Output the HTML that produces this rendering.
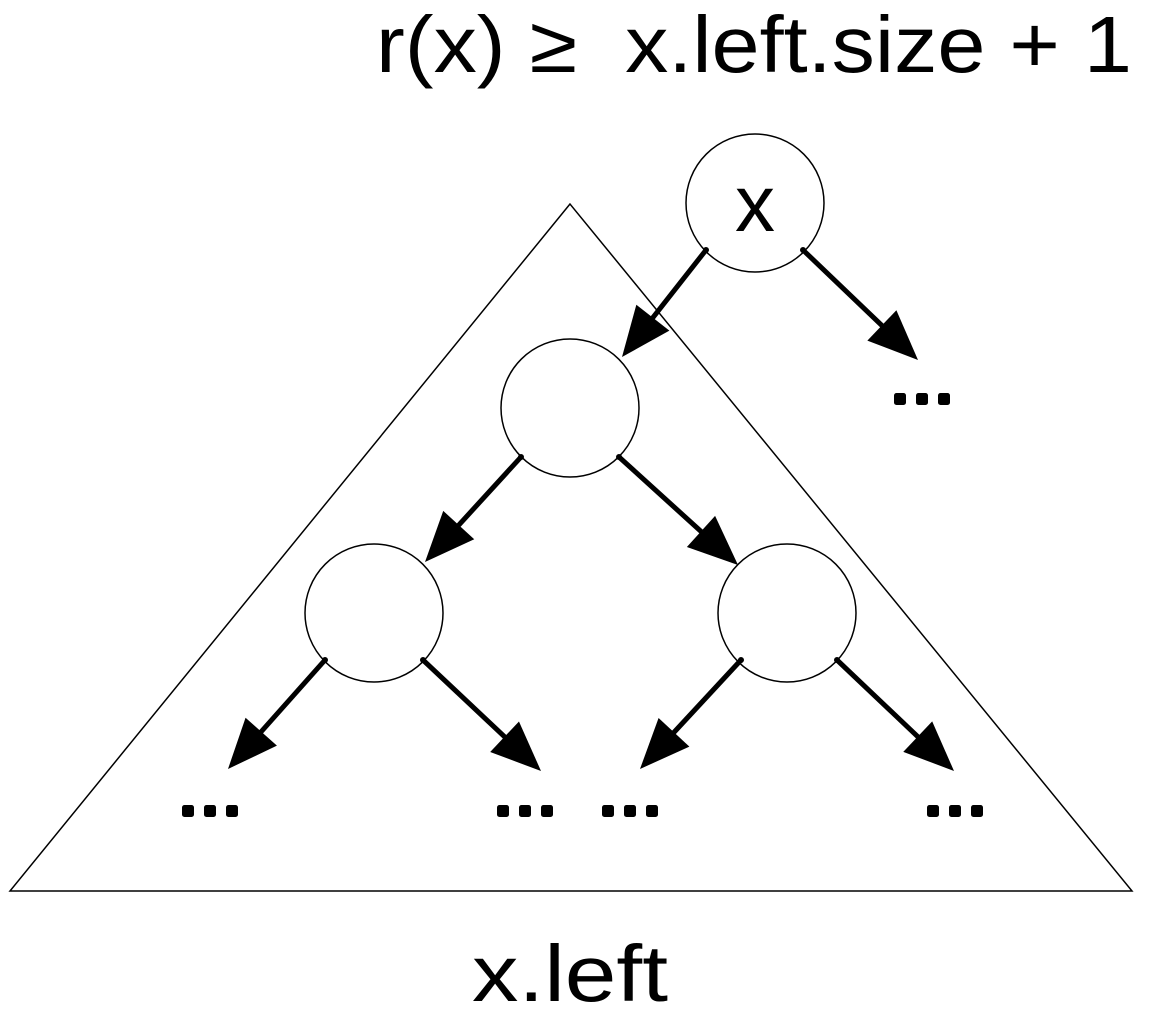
<!DOCTYPE html>
<html><head><meta charset="utf-8"><style>
html,body{margin:0;padding:0;background:#fff;}
svg{display:block;}
text{font-family:"Liberation Sans",sans-serif;fill:#000;}
</style></head><body>
<svg id="svg" width="1151" height="1012" viewBox="0 0 1151 1012">
<text x="376" y="72" font-size="80" textLength="756" lengthAdjust="spacingAndGlyphs">r(x) ≥&#160; x.left.size + 1</text>
<polygon points="570,204 10,891 1132,891" fill="none" stroke="#000" stroke-width="1.5"/>
<text x="472" y="1001" font-size="80" textLength="196" lengthAdjust="spacingAndGlyphs">x.left</text>
<g id="nodes"></g>
<g id="arrows"></g>
<g id="dots"></g>
</svg>
<script>
const NS='http://www.w3.org/2000/svg';
const nodes=[[755,203,'x'],[570,408,''],[374,613,''],[787,613,'']];
const arrowsFrom=[[706,250],[803,250],[521,457],[619,457],[325,660],[423,660],[741,660],[837,660]];
const arrowsTo=[[622,357],[918,360],[425,562],[738,565],[228,769],[541,771],[640,769],[954,771]];
const dots=[[210,817],[525,817],[630,817],[955,817],[922,405]];
const ng=document.getElementById('nodes');
nodes.forEach((n,i)=>{
  const c=document.createElementNS(NS,'circle');
  c.setAttribute('cx',n[0]);c.setAttribute('cy',n[1]);c.setAttribute('r',69);
  c.setAttribute('fill','#fff');c.setAttribute('stroke','#000');c.setAttribute('stroke-width','1.5');
  
  
  ng.appendChild(c);
  if(n[2]){
    const t=document.createElementNS(NS,'text');
    t.setAttribute('x',n[0]);t.setAttribute('y',n[1]+28);t.setAttribute('font-size','80');t.setAttribute('text-anchor','middle');
    t.textContent=n[2];
    
    
    ng.appendChild(t);
  }
});
const ag=document.getElementById('arrows');
arrowsFrom.forEach((f,i)=>{
  const t=arrowsTo[i];
  const dx=t[0]-f[0],dy=t[1]-f[1],L=Math.hypot(dx,dy),ux=dx/L,uy=dy/L;
  const hl=50,hw=21;
  const bx=t[0]-ux*hl,by=t[1]-uy*hl;
  const l=document.createElementNS(NS,'line');
  l.setAttribute('x1',f[0]);l.setAttribute('y1',f[1]);l.setAttribute('x2',bx+ux*5);l.setAttribute('y2',by+uy*5);
  l.setAttribute('stroke','#000');l.setAttribute('stroke-width','5');
  
  
  ag.appendChild(l);
  const p=document.createElementNS(NS,'polygon');
  p.setAttribute('points',`${t[0]},${t[1]} ${bx-uy*hw},${by+ux*hw} ${bx+uy*hw},${by-ux*hw}`);
  p.setAttribute('fill','#000');
  
  
  ag.appendChild(p);
  const d=document.createElementNS(NS,'circle');
  d.setAttribute('cx',f[0]);d.setAttribute('cy',f[1]);d.setAttribute('r',3);d.setAttribute('fill','#000');
  
  
  ag.appendChild(d);
});
const dg=document.getElementById('dots');
dots.forEach(d=>{
  [-22,0,22].forEach(o=>{
    const r=document.createElementNS(NS,'rect');
    r.setAttribute('x',d[0]+o-6);r.setAttribute('y',d[1]-12);r.setAttribute('width',12);r.setAttribute('height',12);
    r.setAttribute('rx',2.5);r.setAttribute('fill','#000');
    
    
    dg.appendChild(r);
  });
});
</script>
</body></html>
